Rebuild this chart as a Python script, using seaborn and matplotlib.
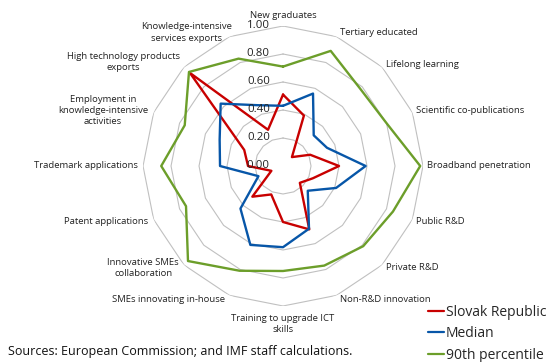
import numpy as np
import pandas as pd
import matplotlib
matplotlib.use("Agg")
import matplotlib.pyplot as plt
import seaborn as sns

categories = ["New graduates", "Tertiary educated", "Lifelong learning",
              "Scientific co-publications", "Broadband penetration", "Public R&D",
              "Private R&D", "Non-R&D innovation", "Training to upgrade ICT\nskills",
              "SMEs innovating in-house", "Innovative SMEs\ncollaboration",
              "Patent applications", "Trademark applications",
              "Employment in\nknowledge-intensive\nactivities",
              "High technology products\nexports", "Knowledge-intensive\nservices exports"]
slovak = [0.51, 0.39, 0.09, 0.21, 0.40, 0.23, 0.17, 0.49, 0.40, 0.22, 0.31, 0.09, 0.25, 0.30, 0.94, 0.28]
median = [0.43, 0.56, 0.31, 0.34, 0.59, 0.41, 0.25, 0.485, 0.58, 0.61, 0.43, 0.19, 0.45, 0.49, 0.63, 0.47]
p90 = [0.71, 0.89, 0.78, 0.80, 0.98, 0.85, 0.81, 0.77, 0.75, 0.81, 0.96, 0.75, 0.87, 0.76, 0.95, 0.83]
series_names = ["Slovak Republic", "Median", "90th percentile"]
ring_levels = [0.2, 0.4, 0.6, 0.8, 1.0]
ring_labels = ["0.00", "0.20", "0.40", "0.60", "0.80", "1.00"]
source_text = "Sources: European Commission; and IMF staff calculations."

colors = ["#C80000", "#0756A8", "#6C9E2A"]

sns.set_style("white")
plt.rcParams['font.family'] = ['Open Sans', 'DejaVu Sans']

n = len(categories)
theta = np.linspace(0, 2 * np.pi, n, endpoint=False)
theta_closed = np.append(theta, 2 * np.pi)

rows = []
for name, vals in zip(series_names, [slovak, median, p90]):
    vc = list(vals) + [vals[0]]
    for t, v in zip(theta_closed, vc):
        rows.append({"theta": t, "value": v, "series": name})
df = pd.DataFrame(rows)

fig = plt.figure(figsize=(5.55, 3.62), dpi=100)
ax = fig.add_axes([0.2577, 0.1547, 0.5045, 0.7735], projection="polar")
ax.set_theta_zero_location("N")
ax.set_theta_direction(-1)
ax.set_ylim(0, 1)
ax.grid(False)
ax.spines["polar"].set_visible(False)
ax.set_xticks([])
ax.set_yticks([])
ax.patch.set_alpha(0)

# polygon rings
for r in ring_levels:
    ax.plot(theta_closed, [r] * (n + 1), color="#C0C0C0", lw=0.8, zorder=1)

sns.lineplot(data=df, x="theta", y="value", hue="series", palette=colors,
             sort=False, estimator=None, lw=1.7, ax=ax, zorder=3)
ax.set_xlabel("")
ax.set_ylabel("")
leg = ax.get_legend()
if leg is not None:
    leg.remove()

# radial labels
for i, lab in enumerate(ring_labels):
    r = i * 0.2
    ax.annotate(lab, xy=(0, r), xytext=(-9.5, 0), textcoords="offset points",
                ha="right", va="center", fontsize=8.2, color="#222222", zorder=4)

# category labels
for t, lab in zip(theta, categories):
    deg = np.degrees(t)
    s, c = np.sin(t), np.cos(t)
    if abs(deg) < 1:
        ha, va, off = "center", "bottom", (0, 4)
    elif abs(deg - 180) < 1:
        ha, va, off = "center", "top", (0, -6)
    elif deg < 180:
        ha, va, off = "left", "center", (2 + 1 * s, 3 * c)
    else:
        ha, va, off = "right", "center", (-3 + 1 * s, 3 * c)
    if lab.startswith("Knowledge"):
        off = (2, 3)
    if lab.startswith("High technology"):
        off = (-3, 3.5)
    ax.annotate(lab, xy=(t, 1.0), xytext=off, textcoords="offset points",
                ha=ha, va=va, multialignment="center", fontsize=6.8,
                color="#222222", linespacing=1.3, annotation_clip=False)

handles = [plt.Line2D([], [], color=col, lw=1.6) for col in colors]
fig.legend(handles, series_names, loc="upper left", bbox_to_anchor=(0.772, 0.158),
           frameon=False, fontsize=10, handlelength=1.15, handletextpad=0.12,
           labelspacing=0.46, borderaxespad=0, borderpad=0)

fig.text(8 / 555, 1 - 351 / 362, source_text, fontsize=9, ha="left", va="center",
         color="#111111")

fig.savefig("out.png", dpi=100)
